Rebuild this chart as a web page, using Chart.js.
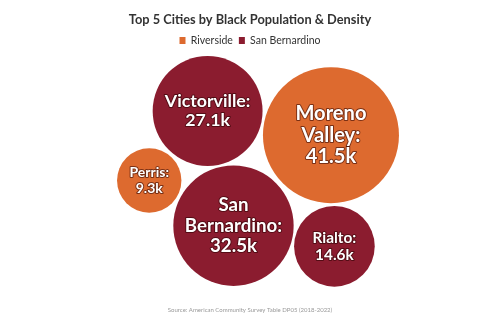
<!DOCTYPE html>
<html>
<head>
<meta charset="utf-8">
<script src="https://cdn.jsdelivr.net/npm/chart.js@4"></script>
<style>
  body { margin: 0; background: #fff; }
</style>
</head>
<body>
<canvas id="bubbles" width="500" height="319"></canvas>
<script>
const counties = ['Riverside', 'San Bernardino'];
const countyColors = ['#dd6a2f', '#8b1c2f'];
const cities = ['Moreno Valley', 'Perris', 'San Bernardino', 'Victorville', 'Rialto'];
const cityCounty = ['Riverside', 'Riverside', 'San Bernardino', 'San Bernardino', 'San Bernardino'];
const blackPop = [41.5, 9.3, 32.5, 27.1, 14.6]; // thousands

const maxRadius = 68;
const gap = 2.5;
const shiftX = 8;    // group sits a little right of the middle
const shiftY = -6;   // and a little above the middle of the plot area

// simple packed-bubble layout: golden angle seeds, pull to center, push overlaps apart
// (pull is a bit stronger vertically since the plot is wider than tall)
function packLayout(radii) {
    const golden = Math.PI * (3 - Math.sqrt(5));
    const order = radii.map((r, i) => i).sort((a, b) => radii[b] - radii[a]);
    const nodes = radii.map(r => ({ r: r, x: 0, y: 0 }));
    const start = -0.44;
    order.forEach((idx, k) => {
        const a = start + k * golden;
        nodes[idx].x = 170 * Math.cos(a);
        nodes[idx].y = 170 * Math.sin(a);
    });
    for (let step = 0; step < 500; step++) {
        nodes.forEach(n => { n.x *= 0.975; n.y *= 0.955; });
        for (let pass = 0; pass < 8; pass++) {
            for (let i = 0; i < nodes.length; i++) {
                for (let j = i + 1; j < nodes.length; j++) {
                    const a = nodes[i], b = nodes[j];
                    let dx = b.x - a.x, dy = b.y - a.y;
                    let d = Math.sqrt(dx * dx + dy * dy) || 0.01;
                    const need = a.r + b.r + gap;
                    if (d < need) {
                        const push = need - d;
                        const wa = b.r * b.r / (a.r * a.r + b.r * b.r);
                        const wb = 1 - wa;
                        a.x -= dx / d * push * wa; a.y -= dy / d * push * wa;
                        b.x += dx / d * push * wb; b.y += dy / d * push * wb;
                    }
                }
            }
        }
    }
    // center the group on its bounding box
    const minX = Math.min(...nodes.map(n => n.x - n.r)), maxX = Math.max(...nodes.map(n => n.x + n.r));
    const minY = Math.min(...nodes.map(n => n.y - n.r)), maxY = Math.max(...nodes.map(n => n.y + n.r));
    const cx = (minX + maxX) / 2, cy = (minY + maxY) / 2;
    nodes.forEach(n => { n.x -= cx; n.y -= cy; });
    return nodes;
}

const biggest = Math.max(...blackPop);
const radii = blackPop.map(v => maxRadius * Math.sqrt(v / biggest));
const layout = packLayout(radii);

const datasets = counties.map((county, c) => {
    const pts = [];
    cities.forEach((city, i) => {
        if (cityCounty[i] === county) {
            pts.push({ x: layout[i].x, y: layout[i].y, r: radii[i], city: city, value: blackPop[i] });
        }
    });
    return {
        label: county,
        data: pts,
        backgroundColor: countyColors[c],
        borderColor: countyColors[c],
        borderWidth: 0,
        pointRadius: ctx => ctx.raw ? ctx.raw.r : 0,
        pointHoverRadius: ctx => ctx.raw ? ctx.raw.r : 0,
        pointBorderWidth: 0,
        pointHoverBorderWidth: 0,
        clip: false
    };
});

// big points would otherwise make Chart.js shrink the plot area
Chart.registry.getController('scatter').prototype.getMaxOverflow = function () { return 0; };

function wrapWords(ctx, text, maxW) {
    const words = text.split(' ');
    const lines = [];
    let line = words[0];
    for (let i = 1; i < words.length; i++) {
        const test = line + ' ' + words[i];
        if (ctx.measureText(test).width > maxW) {
            lines.push(line);
            line = words[i];
        } else {
            line = test;
        }
    }
    lines.push(line);
    return lines;
}

const bubbleLabels = {
    id: 'bubbleLabels',
    afterDatasetsDraw(chart) {
        const ctx = chart.ctx;
        ctx.save();
        ctx.textAlign = 'center';
        ctx.textBaseline = 'middle';
        ctx.lineJoin = 'round';
        chart.data.datasets.forEach((ds, d) => {
            chart.getDatasetMeta(d).data.forEach((el, i) => {
                const p = ds.data[i];
                const size = 8.5 + p.r * 0.17;
                ctx.font = 'bold ' + size.toFixed(1) + 'px Lato';
                const lines = wrapWords(ctx, p.city + ': ' + p.value + 'k', p.r * 1.45);
                const lh = size * 1.08;
                const top = el.y - (lines.length - 1) * lh / 2;
                lines.forEach((ln, k) => {
                    ctx.lineWidth = 2;
                    ctx.strokeStyle = 'rgba(40,0,0,0.55)';
                    ctx.strokeText(ln, el.x, top + k * lh);
                    ctx.fillStyle = '#fff';
                    ctx.fillText(ln, el.x, top + k * lh);
                });
            });
        });
        ctx.restore();
    }
};

const chart = new Chart(document.getElementById('bubbles'), {
    type: 'scatter',
    data: { datasets: datasets },
    options: {
        responsive: false,
        animation: false,
        layout: { padding: 0 },
        scales: {
            x: { display: false, min: -200, max: 200 },
            y: { display: false, reverse: true, min: -120, max: 120 }
        },
        plugins: {
            title: {
                display: true,
                text: 'Top 5 Cities by Black Population & Density',
                color: '#333',
                font: { family: 'Lato', size: 12.8, weight: 'bold' },
                padding: { top: 12, bottom: 2 }
            },
            legend: {
                labels: {
                    color: '#333',
                    font: { family: 'Lato', size: 10.5 },
                    boxWidth: 6,
                    boxHeight: 7,
                    padding: 6
                }
            },
            subtitle: {
                display: true,
                position: 'bottom',
                text: 'Source: American Community Survey Table DP05 (2018-2022)',
                color: '#999',
                font: { family: 'Lato', size: 6 },
                padding: { top: 8, bottom: 5 }
            },
            tooltip: { enabled: false }
        }
    },
    plugins: [bubbleLabels]
});

// make one scale unit equal one pixel so radii and positions agree
const area = chart.chartArea;
chart.options.scales.x.min = -area.width / 2 - shiftX;
chart.options.scales.x.max = area.width / 2 - shiftX;
chart.options.scales.y.min = -area.height / 2 - shiftY;
chart.options.scales.y.max = area.height / 2 - shiftY;
chart.update('none');
</script>
</body>
</html>
